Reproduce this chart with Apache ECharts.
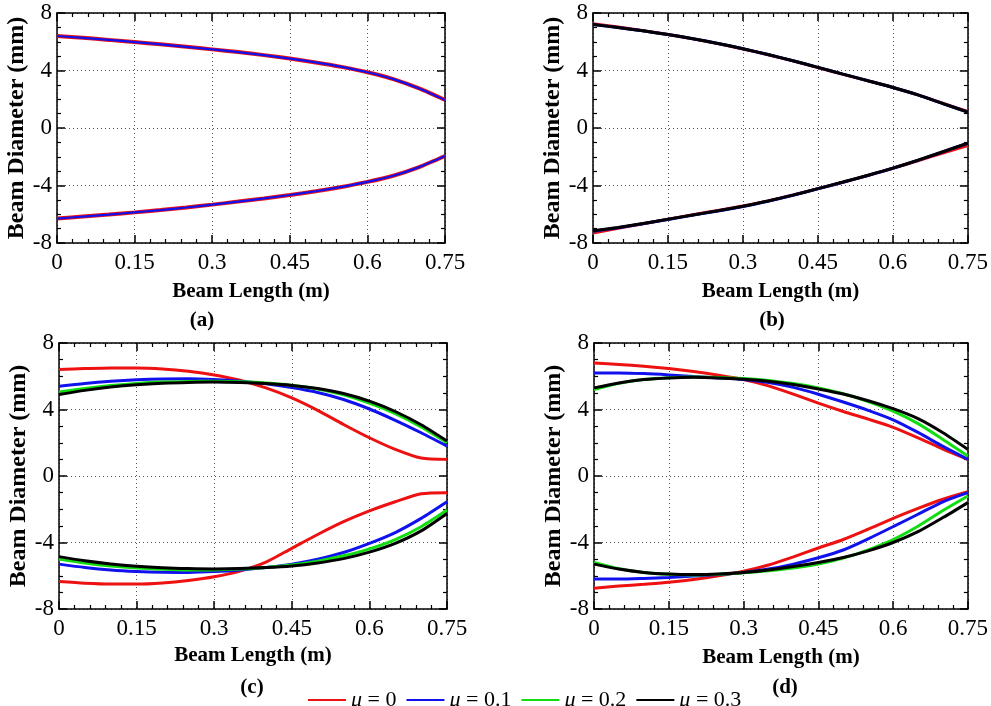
<!DOCTYPE html>
<html>
<head>
<meta charset="utf-8">
<script src="https://cdn.jsdelivr.net/npm/echarts@6/dist/echarts.min.js"></script>
<style>
html,body{margin:0;padding:0;background:#fff;}
#c{width:991px;height:706px;}
</style>
</head>
<body>
<div id="c"></div>
<script>
// Beam length positions (m)
const X = [0,0.05,0.1,0.15,0.2,0.25,0.3,0.35,0.4,0.45,0.5,0.55,0.6,0.65,0.7,0.75];
const SERIES_NAMES = ['μ = 0','μ = 0.1','μ = 0.2','μ = 0.3'];
const X_TICKS = [0,0.15,0.3,0.45,0.6,0.75];
const Y_TICKS = [-8,-4,0,4,8];
const PANEL_LABELS = ['(a)','(b)','(c)','(d)'];

// (a)
const A_RED_TOP  = [6.4,6.27,6.13,5.98,5.82,5.65,5.47,5.28,5.07,4.83,4.56,4.25,3.88,3.4,2.75,1.95];
const A_RED_BOT  = [-6.3,-6.16,-6.02,-5.87,-5.71,-5.53,-5.33,-5.12,-4.9,-4.66,-4.4,-4.1,-3.75,-3.32,-2.72,-1.95];
const A_BLUE_TOP = [6.4,6.27,6.13,5.98,5.82,5.65,5.47,5.28,5.07,4.83,4.56,4.25,3.88,3.4,2.75,1.95];
const A_BLUE_BOT = [-6.3,-6.16,-6.02,-5.87,-5.71,-5.53,-5.33,-5.12,-4.9,-4.66,-4.4,-4.1,-3.75,-3.32,-2.72,-1.95];

// (b)
const B_RED_TOP   = [7.25,7.02,6.77,6.5,6.2,5.87,5.5,5.1,4.67,4.2,3.73,3.28,2.82,2.3,1.72,1.15];
const B_RED_BOT   = [-7.3,-6.98,-6.66,-6.34,-6.03,-5.74,-5.43,-5.07,-4.66,-4.22,-3.77,-3.3,-2.8,-2.28,-1.74,-1.22];
const B_BLUE_TOP  = [7.2,6.99,6.76,6.5,6.21,5.88,5.51,5.11,4.68,4.22,3.75,3.29,2.82,2.3,1.7,1.1];
const B_BLUE_BOT  = [-7.18,-6.94,-6.66,-6.36,-6.06,-5.77,-5.46,-5.09,-4.68,-4.23,-3.77,-3.3,-2.8,-2.25,-1.66,-1.06];
const B_BLACK_TOP = [7.2,6.99,6.76,6.5,6.21,5.88,5.51,5.11,4.68,4.22,3.75,3.29,2.82,2.3,1.7,1.1];
const B_BLACK_BOT = [-7.15,-6.92,-6.65,-6.35,-6.05,-5.76,-5.45,-5.08,-4.67,-4.22,-3.76,-3.29,-2.79,-2.24,-1.65,-1.05];

// (c)
const C_RED_TOP   = [6.4,6.46,6.5,6.5,6.44,6.3,6.08,5.76,5.3,4.7,3.95,3.1,2.3,1.6,1.08,1.0];
const C_RED_BOT   = [-6.35,-6.45,-6.5,-6.5,-6.43,-6.28,-6.06,-5.72,-5.18,-4.35,-3.52,-2.75,-2.1,-1.55,-1.07,-1.0];
const C_BLUE_TOP  = [5.4,5.57,5.7,5.79,5.84,5.85,5.8,5.7,5.55,5.32,5.02,4.6,4.03,3.35,2.6,1.8];
const C_BLUE_BOT  = [-5.3,-5.5,-5.65,-5.74,-5.79,-5.8,-5.75,-5.65,-5.5,-5.3,-5.0,-4.6,-4.05,-3.4,-2.55,-1.55];
const C_GREEN_TOP = [5.05,5.27,5.44,5.57,5.65,5.69,5.7,5.67,5.6,5.46,5.23,4.88,4.38,3.75,2.95,2.0];
const C_GREEN_BOT = [-5.0,-5.24,-5.42,-5.54,-5.61,-5.65,-5.65,-5.6,-5.5,-5.35,-5.12,-4.8,-4.38,-3.82,-3.05,-2.05];
const C_BLACK_TOP = [4.9,5.15,5.35,5.49,5.58,5.63,5.65,5.62,5.56,5.45,5.26,4.96,4.5,3.88,3.08,2.1];
const C_BLACK_BOT = [-4.85,-5.1,-5.29,-5.43,-5.52,-5.57,-5.59,-5.57,-5.51,-5.41,-5.23,-4.97,-4.58,-4.05,-3.3,-2.25];

// (d)
const D_RED_TOP   = [6.8,6.71,6.6,6.46,6.28,6.06,5.8,5.42,4.92,4.38,3.88,3.42,2.93,2.3,1.62,1.0];
const D_RED_BOT   = [-6.75,-6.62,-6.51,-6.39,-6.22,-6.0,-5.73,-5.35,-4.86,-4.33,-3.82,-3.2,-2.55,-1.95,-1.4,-0.95];
const D_BLUE_TOP  = [6.2,6.2,6.16,6.08,5.98,5.9,5.8,5.62,5.33,4.92,4.45,3.95,3.38,2.62,1.78,1.0];
const D_BLUE_BOT  = [-6.2,-6.2,-6.16,-6.1,-6.01,-5.92,-5.8,-5.6,-5.3,-4.92,-4.45,-3.78,-3.05,-2.3,-1.55,-1.0];
const D_GREEN_TOP = [5.2,5.58,5.8,5.91,5.95,5.93,5.86,5.75,5.56,5.3,4.95,4.48,3.9,3.15,2.2,1.2];
const D_GREEN_BOT = [-5.2,-5.58,-5.8,-5.91,-5.95,-5.91,-5.82,-5.7,-5.54,-5.3,-4.94,-4.44,-3.82,-3.02,-2.08,-1.2];
const D_BLACK_TOP = [5.3,5.6,5.8,5.9,5.94,5.9,5.82,5.7,5.5,5.23,4.93,4.53,4.05,3.45,2.6,1.6];
const D_BLACK_BOT = [-5.3,-5.6,-5.8,-5.9,-5.93,-5.9,-5.81,-5.66,-5.45,-5.2,-4.9,-4.5,-4.0,-3.35,-2.5,-1.6];

const COLORS = ['#ee1111','#1111ee','#11dd11','#000000'];
const FONT = 'Liberation Serif';

const panels = [
  {grid:{left:57, top:13, width:388, height:230}, nameGapY:27, nameGapX:38,
   curves:[[0,A_RED_TOP,4],[0,A_RED_BOT,4],[1,A_BLUE_TOP,2.2],[1,A_BLUE_BOT,2.2]],
   label:[202,321]},
  {grid:{left:593, top:13, width:377, height:230}, nameGapY:25, nameGapX:38,
   curves:[[0,B_RED_TOP,3],[0,B_RED_BOT,3],[1,B_BLUE_TOP,3],[1,B_BLUE_BOT,3],[3,B_BLACK_TOP,3],[3,B_BLACK_BOT,3]],
   label:[772,321]},
  {grid:{left:59, top:343, width:388, height:266}, nameGapY:26, nameGapX:36,
   curves:[[0,C_RED_TOP,3],[0,C_RED_BOT,3],[1,C_BLUE_TOP,3],[1,C_BLUE_BOT,3],[2,C_GREEN_TOP,3],[2,C_GREEN_BOT,3],[3,C_BLACK_TOP,3],[3,C_BLACK_BOT,3]],
   label:[252,688]},
  {grid:{left:594, top:343, width:375, height:266}, nameGapY:26, nameGapX:38,
   curves:[[0,D_RED_TOP,3],[0,D_RED_BOT,3],[1,D_BLUE_TOP,3],[1,D_BLUE_BOT,3],[2,D_GREEN_TOP,3],[2,D_GREEN_BOT,3],[3,D_BLACK_TOP,3],[3,D_BLACK_BOT,3]],
   label:[785,688]}
];

const grid = [], xAxis = [], yAxis = [], series = [], graphic = [];
const axisLine = {show:true, onZero:false, lineStyle:{color:'#000', width:1.5}};
const tickStyle = {inside:true, length:8, lineStyle:{color:'#000', width:1.5}};
const minorStyle = {show:true, length:4, lineStyle:{color:'#000', width:1.2}};
const labelStyle = {color:'#000', fontFamily:FONT, fontSize:23};
const nameStyle = {color:'#000', fontFamily:FONT, fontSize:21, fontWeight:'bold'};

panels.forEach((p, gi) => {
  grid.push(Object.assign({containLabel:false}, p.grid));
  const xi = xAxis.length;
  xAxis.push({type:'value', gridIndex:gi, position:'bottom', min:X_TICKS[0], max:X_TICKS[X_TICKS.length-1], interval:X_TICKS[1]-X_TICKS[0],
    axisLine, axisTick:tickStyle, minorTick:Object.assign({splitNumber:5}, minorStyle),
    axisLabel:Object.assign({margin:8, showMinLabel:true, showMaxLabel:true}, labelStyle),
    splitLine:{show:true, lineStyle:{color:'#555', type:[1,3], width:1}},
    name:'Beam Length (m)', nameLocation:'middle', nameGap:p.nameGapX, nameTextStyle:nameStyle});
  xAxis.push({type:'value', gridIndex:gi, position:'top', min:X_TICKS[0], max:X_TICKS[X_TICKS.length-1], interval:X_TICKS[1]-X_TICKS[0],
    axisLine, axisTick:tickStyle, minorTick:Object.assign({splitNumber:5}, minorStyle),
    axisLabel:{show:false}, splitLine:{show:false}});
  const yi = yAxis.length;
  yAxis.push({type:'value', gridIndex:gi, position:'left', min:Y_TICKS[0], max:Y_TICKS[Y_TICKS.length-1], interval:Y_TICKS[1]-Y_TICKS[0],
    axisLine, axisTick:tickStyle, minorTick:Object.assign({splitNumber:4}, minorStyle),
    axisLabel:Object.assign({margin:5}, labelStyle),
    splitLine:{show:true, lineStyle:{color:'#555', type:[1,3], width:1}},
    name:'Beam Diameter (mm)', nameLocation:'middle', nameGap:p.nameGapY,
    nameTextStyle:Object.assign({}, nameStyle, {fontSize:24})});
  yAxis.push({type:'value', gridIndex:gi, position:'right', min:Y_TICKS[0], max:Y_TICKS[Y_TICKS.length-1], interval:Y_TICKS[1]-Y_TICKS[0],
    axisLine, axisTick:tickStyle, minorTick:Object.assign({splitNumber:4}, minorStyle),
    axisLabel:{show:false}, splitLine:{show:false}});
  p.curves.forEach(([ci, arr, w]) => {
    series.push({type:'line', name:SERIES_NAMES[ci], xAxisIndex:xi, yAxisIndex:yi,
      data:X.map((x,i)=>[x, arr[i]]), symbol:'none', smooth:0.25,
      lineStyle:{color:COLORS[ci], width:w}, itemStyle:{color:COLORS[ci]}, z:2+ci, animation:false});
  });
  graphic.push({type:'text', x:p.label[0], y:p.label[1],
    style:{text:PANEL_LABELS[gi], fill:'#000', fontFamily:FONT, fontSize:21, fontWeight:'bold', align:'center', verticalAlign:'middle'}});
});

const chart = echarts.init(document.getElementById('c'));
chart.setOption({
  backgroundColor:'#fff',
  animation:false,
  textStyle:{fontFamily:FONT},
  grid, xAxis, yAxis, series, graphic,
  legend:{
    data:SERIES_NAMES, left:303, top:684, itemWidth:38, itemHeight:2, itemGap:10,
    icon:'rect',
    formatter: name => '{i|μ}' + name.slice(1),
    textStyle:{color:'#000', fontFamily:FONT, fontSize:22,
      rich:{i:{fontStyle:'italic', fontFamily:FONT, fontSize:22, color:'#000'}}}
  }
});
</script>
</body>
</html>
